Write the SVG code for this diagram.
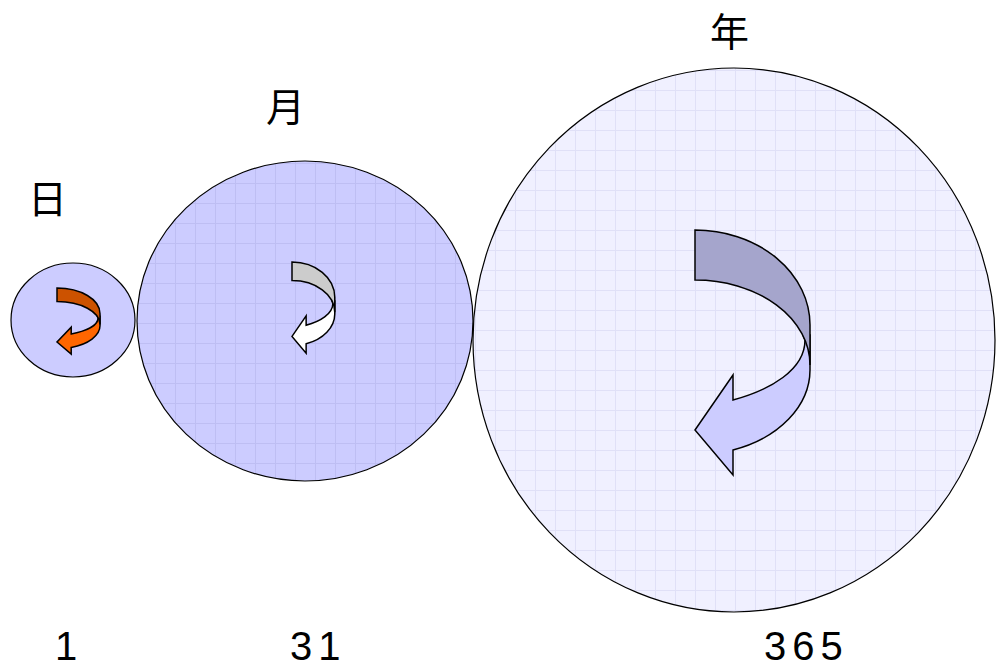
<svg xmlns="http://www.w3.org/2000/svg" width="996" height="669" viewBox="0 0 996 669">
<style>
.circ{stroke:#000;stroke-width:1.2}
.ar{stroke:#000;stroke-width:1.5;vector-effect:non-scaling-stroke;stroke-linejoin:miter}
.lbl{font-family:"Noto Sans CJK JP","Noto Sans CJK SC",sans-serif;font-size:39px;fill:#000}
.num{font-family:"Liberation Sans",Arial,sans-serif;font-size:40px;fill:#000;letter-spacing:6px}
</style>
<defs>
<pattern id="gridM" width="20" height="20" patternUnits="userSpaceOnUse" x="15" y="3">
<rect width="20" height="20" fill="#CCCCFF"/>
<path d="M0 0.5H20M0.5 0V20" stroke="#BEBEF3" stroke-width="1" fill="none"/>
</pattern>
<pattern id="gridB" width="20" height="20" patternUnits="userSpaceOnUse" x="15" y="10">
<rect width="20" height="20" fill="#F0F0FF"/>
<path d="M0 0.5H20M0.5 0V20" stroke="#E0E0F7" stroke-width="1" fill="none"/>
</pattern>
</defs>
<g id="day">
<ellipse class="circ" cx="73" cy="320" rx="62" ry="57" fill="#CCCCFF"/>
<g transform="translate(57,288) scale(0.374,0.27)">
<path class="ar" fill="#FF6600" d="M108,105 L115,105 L115,140 A115,85 0 0 1 38,220 L38,245 L0,200 L38,145 L38,170 C75,160 110,140 110,110 Z"/>
<path class="ar" fill="#CC5200" d="M0,0 A115,95 0 0 1 115,95 L115,135 A115,85 0 0 0 0,50 Z"/>
</g>
<text class="lbl" x="28" y="213">日</text>
<text class="num" x="55" y="660">1</text>
</g>
<g id="month">
<ellipse class="circ" cx="305" cy="321" rx="168" ry="160" fill="url(#gridM)"/>
<g transform="translate(292,262) scale(0.372)">
<path class="ar" fill="#FFFFFF" d="M108,105 L115,105 L115,140 A115,85 0 0 1 38,220 L38,245 L0,200 L38,145 L38,170 C75,160 110,140 110,110 Z"/>
<path class="ar" fill="#CCCCCC" d="M0,0 A115,95 0 0 1 115,95 L115,135 A115,85 0 0 0 0,50 Z"/>
</g>
<text class="lbl" x="266" y="121">月</text>
<text class="num" x="290" y="660">31</text>
</g>
<g id="year">
<ellipse class="circ" cx="734" cy="340" rx="261" ry="272" fill="url(#gridB)"/>
<g transform="translate(695,230)">
<path class="ar" fill="#CCCCFF" d="M108,105 L115,105 L115,140 A115,85 0 0 1 38,220 L38,245 L0,200 L38,145 L38,170 C75,160 110,140 110,110 Z"/>
<path class="ar" fill="#A5A5CC" d="M0,0 A115,95 0 0 1 115,95 L115,135 A115,85 0 0 0 0,50 Z"/>
</g>
<text class="lbl" x="710" y="46">年</text>
<text class="num" x="764" y="660">365</text>
</g>
<g id="connectors"></g>
</svg>
